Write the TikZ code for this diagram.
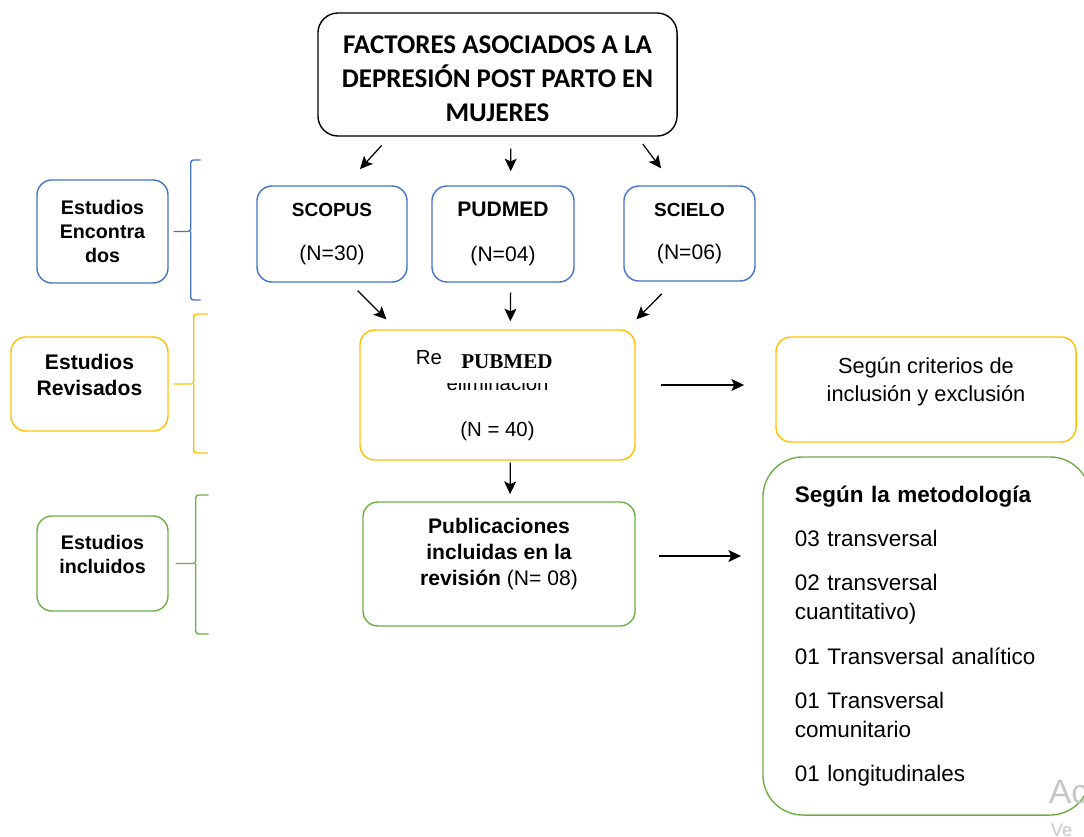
\documentclass[tikz,border=0pt]{standalone}
\usepackage{fontspec}
\setmainfont{Liberation Sans}
\newfontfamily\calibri{Carlito}
\newfontfamily\timesfont{Liberation Serif}
\usetikzlibrary{arrows.meta}

\definecolor{azul}{HTML}{4472C4}
\definecolor{amarillo}{HTML}{FFC000}
\definecolor{verde}{HTML}{70AD47}

\newcommand{\fs}[2]{\fontsize{#1}{#2}\selectfont}

\begin{document}
\begin{tikzpicture}[x=0.025cm,y=-0.025cm,>={Stealth[length=9pt,width=8.5pt,inset=2pt]}]
  \tikzstyle{caja}=[draw,rectangle,rounded corners=0.375cm,line width=1pt,inner sep=0pt,align=center]
  \tikzstyle{flecha}=[->,line width=0.9pt]
  \tikzstyle{llave}=[line width=1pt,rounded corners=2pt]
  \tikzstyle{rotulo}=[align=center,font=\bfseries\fs{14}{17}]

  \useasboundingbox (0,0) rectangle (1084,836);

  % titulo y bases de datos
  \node[caja,draw=black,rounded corners=0.5cm,minimum width=8.975cm,minimum height=3.075cm] (titulo) at (497.5,74.5) {};
  \node[align=center,font=\calibri\bfseries\fs{19.2}{24}] (titulotxt) at ([yshift=-0.11cm]titulo.center)
        {FACTORES ASOCIADOS A LA\\DEPRESIÓN POST PARTO EN\\MUJERES};
  \node[caja,draw=azul,minimum width=3.75cm,minimum height=2.4cm,font=\fs{15}{18}] (scopus) at (332,234)
        {{\bfseries\fontsize{13.5}{18}\selectfont SCOPUS}\\[13.5pt](N=30)};
  \node[caja,draw=azul,minimum width=3.55cm,minimum height=2.4cm,font=\fs{15}{18}] (pudmed) at (503,234)
        {{\bfseries PUDMED}\\[13.5pt](N=04)};
  \node[caja,draw=azul,minimum width=3.275cm,minimum height=2.375cm,font=\fs{15}{18}] (scielo) at (689.5,233.5)
        {{\bfseries\fontsize{13.5}{18}\selectfont SCIELO}\\[13pt](N=06)};

  % revision
  \node[caja,draw=amarillo,minimum width=6.875cm,minimum height=3.25cm,font=\fs{14.5}{19}] (rev) at (497.5,395)
        {Registros tras la\hspace*{0.4cm}\\eliminación\\[13.6pt](N = 40)};
  \node[fill=white,inner sep=0pt,minimum width=3.25cm,minimum height=1.075cm,
        font=\timesfont\bfseries\fs{15}{18}] (pubmed) at (507,361.5) {PUBMED};
  \node[caja,draw=amarillo,minimum width=7.5cm,minimum height=2.625cm] (crit) at (926,389.5) {};
  \node[align=center,font=\fs{15.5}{20}] (crittxt) at ([yshift=0.19cm]crit.center)
        {Según criterios de\\inclusión y exclusión};

  % incluidos
  \node[caja,draw=verde,minimum width=6.8cm,minimum height=3.1cm] (incl) at (499,564) {};
  \node[align=center,font=\fs{15}{18.4}] (incltxt) at ([yshift=0.25cm]incl.center)
        {\bfseries Publicaciones\\\bfseries incluidas en la\\{\bfseries revisión} (N= 08)};
  \node[caja,draw=verde,rounded corners=1cm,minimum width=8.175cm,minimum height=8.95cm,
        text width=6.575cm,align=left,inner xsep=0.8cm,font=\fs{16}{20.5}] (metodo) at (926.5,636)
        {{\bfseries Según la metodología}\\[11pt]
         03 transversal\\[11pt]
         02 transversal\\
         cuantitativo)\\[11pt]
         01 Transversal analítico\\[11pt]
         01 Transversal\\
         comunitario\\[11pt]
         01 longitudinales};

  % rotulos de la izquierda
  \node[caja,draw=azul,minimum width=3.275cm,minimum height=2.575cm,rotulo] (enc) at (102.5,231.5)
        {Estudios\\Encontra\\dos};
  \node[caja,draw=amarillo,minimum width=3.925cm,minimum height=2.35cm] (revl) at (89.5,384) {};
  \node[rotulo,font=\bfseries\fs{15}{19}] (revltxt) at ([yshift=0.225cm]revl.center) {Estudios\\Revisados};
  \node[caja,draw=verde,minimum width=3.275cm,minimum height=2.375cm] (incll) at (102.5,563.5) {};
  \node[rotulo,font=\bfseries\fs{14}{17.7}] (inclltxt) at ([yshift=0.225cm]incll.center) {Estudios\\incluidos};

  % llaves
  \draw[llave,draw=azul] ([xshift=0.125cm]enc.east) -- ++(17,0) coordinate (ba)
        |- ++(10,-71.5) (ba) |- ++(10,68.5);
  \draw[llave,draw=amarillo] ([xshift=0.125cm]revl.east) -- ++(20,0) coordinate (bb)
        |- ++(14,-70) (bb) |- ++(14,69);
  \draw[llave,draw=verde] ([xshift=0.175cm]incll.east) -- ++(20,0) coordinate (bc)
        |- ++(13,-68.5) (bc) |- ++(13,70.5);

  % flechas
  \draw[flecha,shorten <=0.3cm,shorten >=0.55cm] (titulo.210) -- (scopus.75);
  \draw[flecha,shorten <=0.3cm,shorten >=0.35cm] (titulo.-78.5) -- (pudmed.81.7);
  \draw[flecha,shorten <=0.23cm,shorten >=0.53cm] (titulo.-24.7) -- (scielo.108.5);
  \draw[flecha,shorten <=0.28cm,shorten >=0.35cm] (scopus.-70) -- (rev.147.8);
  \draw[flecha,shorten <=0.25cm,shorten >=0.2cm] (pudmed.-81.7) -- (rev.79.1);
  \draw[flecha,shorten <=0.43cm,shorten >=0.35cm] (scielo.-108) -- (rev.27);
  \draw[flecha,shorten <=0.05cm,shorten >=0.18cm] (rev.-79.1) -- (incl.80);
  \draw[flecha,shorten <=0.63cm,shorten >=0.78cm] ([yshift=0.25cm]rev.east) -- ([yshift=0.25cm]rev.east -| crit.west);
  \draw[flecha,shorten <=0.58cm,shorten >=0.53cm] ([yshift=0.2cm]incl.east) -- ([yshift=0.2cm]incl.east -| metodo.west);

  % marca de agua
  \node[anchor=west,text=gray!45,font=\fs{24}{28}] (marca) at (1044,792) {Ac};
  \node[anchor=west,text=gray!45,font=\fs{13}{15}] (marcb) at (1046,830) {Ve};
\end{tikzpicture}
\end{document}
